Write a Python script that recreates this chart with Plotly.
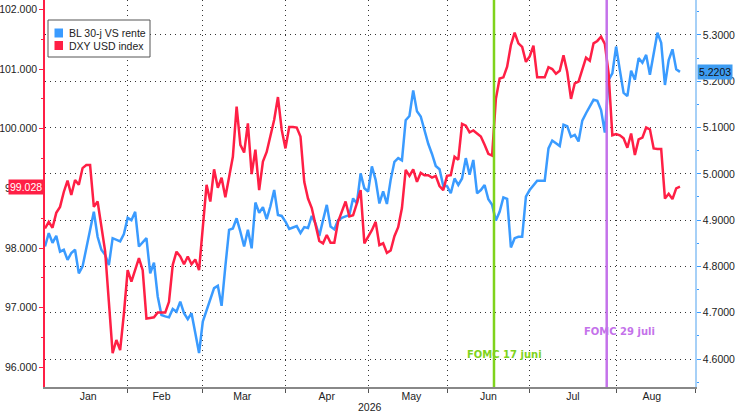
import pandas as pd
import plotly.graph_objects as go

# ----- data, one value per business day (Jan 1 -> Aug 26 2026)
dates = pd.bdate_range("2026-01-01", periods=170)

# DXY USD index (left axis)
dxy = [
    98.33, 98.44, 98.34, 98.59, 98.69, 98.94, 99.13, 98.89, 99.14, 99.06,
    99.34, 99.39, 99.39, 98.69, 98.78, 98.39, 97.95, 97.10, 96.24, 96.46,
    96.29, 96.90, 97.63, 97.44, 97.63, 97.83, 97.63, 96.82, 96.83, 96.84,
    96.92, 96.92, 96.92, 97.10, 97.72, 97.94, 97.86, 97.73, 97.86, 97.73,
    97.81, 97.63, 98.30, 99.06, 98.78, 99.32, 99.01, 99.18, 98.85, 99.20,
    99.53, 100.37, 99.73, 99.60, 100.09, 99.24, 99.65, 98.97, 99.45, 99.61,
    99.87, 100.15, 100.53, 99.98, 99.67, 100.03, 100.03, 100.02, 99.87, 99.11,
    98.83, 98.67, 98.39, 98.12, 98.08, 98.22, 98.09, 98.09, 98.44, 98.61,
    98.78, 98.53, 98.55, 98.75, 98.97, 98.08, 98.19, 98.30, 98.44, 98.05,
    98.08, 97.92, 97.96, 98.20, 98.35, 98.67, 99.31, 99.21, 99.32, 99.11,
    99.26, 99.22, 99.22, 99.18, 99.21, 99.04, 98.97, 99.21, 99.22, 99.53,
    99.48, 100.08, 100.05, 99.94, 99.97, 99.92, 99.87, 99.73, 99.58, 99.55,
    100.50, 100.84, 100.86, 101.04, 101.40, 101.61, 101.43, 101.37, 101.12, 101.21,
    101.39, 100.86, 100.86, 100.86, 101.03, 101.00, 100.92, 100.97, 101.23, 100.95,
    100.50, 100.76, 100.79, 100.98, 101.19, 101.14, 101.43, 101.47, 101.54, 101.42,
    100.93, 99.89, 99.91, 99.89, 99.84, 99.68, 99.92, 99.56, 99.82, 99.85,
    100.02, 99.99, 99.67, 99.66, 99.66, 98.83, 98.91, 98.82, 99.00, 99.028,
]

# BL 30-j VS rente (right axis)
bl30 = [
    4.843, 4.872, 4.851, 4.866, 4.832, 4.836, 4.814, 4.829, 4.836, 4.785,
    4.800, 4.840, 4.880, 4.918, 4.864, 4.836, 4.825, 4.803, 4.861, 4.857,
    4.854, 4.870, 4.905, 4.900, 4.918, 4.843, 4.852, 4.861, 4.785, 4.808,
    4.735, 4.695, 4.692, 4.690, 4.708, 4.702, 4.724, 4.699, 4.686, 4.699,
    4.656, 4.613, 4.681, 4.706, 4.731, 4.753, 4.758, 4.715, 4.800, 4.879,
    4.882, 4.904, 4.875, 4.843, 4.879, 4.839, 4.938, 4.916, 4.928, 4.902,
    4.930, 4.965, 4.911, 4.909, 4.897, 4.881, 4.884, 4.887, 4.872, 4.885,
    4.883, 4.909, 4.893, 4.866, 4.900, 4.933, 4.886, 4.880, 4.900, 4.905,
    4.908, 4.911, 4.947, 4.936, 5.001, 4.969, 4.962, 5.016, 4.987, 4.936,
    4.962, 4.935, 4.987, 5.026, 5.034, 5.029, 5.116, 5.125, 5.180, 5.135,
    5.124, 5.095, 5.065, 5.043, 5.017, 5.010, 4.974, 4.974, 4.958, 4.990,
    4.976, 4.990, 5.034, 4.998, 5.030, 4.958, 4.965, 4.976, 4.945, 4.933,
    4.899, 4.918, 4.949, 4.946, 4.841, 4.861, 4.864, 4.864, 4.951, 4.965,
    4.975, 4.985, 4.985, 4.985, 5.055, 5.072, 5.066, 5.060, 5.106, 5.103,
    5.080, 5.084, 5.070, 5.115, 5.131, 5.145, 5.160, 5.158, 5.138, 5.089,
    5.203, 5.217, 5.275, 5.224, 5.175, 5.168, 5.223, 5.203, 5.250, 5.240,
    5.257, 5.214, 5.257, 5.305, 5.283, 5.192, 5.246, 5.269, 5.226, 5.2203,
]

series_names = ["BL 30-j VS rente", "DXY USD index"]

fomc_dates = ["2026-06-17 12:00", "2026-07-29 12:00"]
fomc_labels = ["FOMC 17 juni", "FOMC 29 juli"]
fomc_label_y = [4.609, 4.659]   # on the right axis

FONT = "Liberation Sans, Arial, sans-serif"
RED = "#ff1f45"
BLUE = "#3a9bff"
GREEN = "#7fd31c"
PURPLE = "#c472ea"
GRID = "#333333"
GRID_DASH = "1px,4px"

# plot area is 650 x 387 px; helpers to place the hand-drawn legend
PW, PH = 650.0, 387.0
def px(v):
    return v / PW
def py(v):
    return 1 - v / PH

fig = go.Figure()

# blue on the (gridded) right axis, red on the left axis so it sits on top
fig.add_trace(go.Scatter(x=dates, y=bl30, mode="lines", name=series_names[0],
                         line=dict(color=BLUE, width=2.5), yaxis="y"))
fig.add_trace(go.Scatter(x=dates, y=dxy, mode="lines", name=series_names[1],
                         line=dict(color=RED, width=2.5), yaxis="y2"))

shapes = []
annotations = []
for d, lab, ly, c, xs in zip(fomc_dates, fomc_labels, fomc_label_y, [GREEN, PURPLE], [11, 13]):
    shapes.append(dict(type="line", xref="x", yref="paper", x0=d, x1=d, y0=0, y1=1,
                       line=dict(color=c, width=2.5), layer="above"))
    annotations.append(dict(x=d, y=ly, xref="x", yref="y", text=f"<b>{lab}</b>",
                            showarrow=False, xshift=xs,
                            font=dict(family="DejaVu Sans, sans-serif", size=10, color=c)))

# legend box (drawn by hand to get the tight Bloomberg spacing)
shapes.append(dict(type="rect", xref="paper", yref="paper", x0=px(3), x1=px(105),
                   y0=py(57), y1=py(20), line=dict(color="#555555", width=1),
                   fillcolor="white", layer="above"))
for i, (nm, c) in enumerate(zip(series_names, [BLUE, RED])):
    yc = 33 + 12.5 * i
    shapes.append(dict(type="rect", xref="paper", yref="paper", x0=px(9.5), x1=px(18),
                       y0=py(yc + 4.5), y1=py(yc - 4.5), line=dict(width=0),
                       fillcolor=c, layer="above"))
    annotations.append(dict(xref="paper", yref="paper", x=px(22), y=py(yc), xanchor="left",
                            yanchor="middle", text=nm, showarrow=False,
                            font=dict(size=10.5, color="#222222")))

# last value badges
annotations.append(dict(xref="paper", x=0, xanchor="right", xshift=-1, yref="y2", y=dxy[-1],
                        text=f"{dxy[-1]:.3f}", showarrow=False, bgcolor=RED, borderpad=1,
                        font=dict(color="white", size=10.5)))
annotations.append(dict(xref="paper", x=1, xanchor="left", xshift=2, yref="y", y=bl30[-1],
                        text=f"{bl30[-1]:.4f}", showarrow=False, bgcolor="#3d9cf2", borderpad=1,
                        font=dict(color="#111111", size=10.5)))
annotations.append(dict(xref="paper", x=0.5, y=0, yref="paper", yanchor="top", yshift=-12,
                        text="2026", showarrow=False, font=dict(size=10.5)))

fig.update_layout(
    width=736, height=412,
    margin=dict(l=45, r=41, t=0, b=25),
    paper_bgcolor="white", plot_bgcolor="white",
    font=dict(family=FONT, size=10.5, color="#222222"),
    showlegend=False,
    xaxis=dict(type="date", range=["2026-01-01", "2026-09-01"], automargin=False,
               rangebreaks=[dict(bounds=["sat", "mon"])],
               dtick="M1", tick0="2026-01-01", tickformat="%b", ticklabelmode="period",
               ticklabelstandoff=-5,
               showgrid=True, gridcolor=GRID, griddash=GRID_DASH, gridwidth=1,
               ticks="outside", ticklen=4, tickcolor="#555555",
               showline=True, linecolor="#888888", linewidth=1.5, zeroline=False),
    yaxis=dict(side="right", range=[4.5395, 5.3756], tick0=4.6, dtick=0.1, tickformat=".4f",
               automargin=False,
               showgrid=True, gridcolor=GRID, griddash=GRID_DASH, gridwidth=1,
               ticks="outside", ticklen=4, tickcolor=BLUE,
               minor=dict(dtick=0.05, ticks="outside", ticklen=2, tickcolor=BLUE),
               showline=True, linecolor="#a6d0f7", linewidth=1.5, zeroline=False),
    yaxis2=dict(overlaying="y", side="left", range=[95.673, 102.156], tick0=96, dtick=1,
                tickformat=".3f", showgrid=False, automargin=False,
                ticks="outside", ticklen=4, tickcolor=RED,
                minor=dict(dtick=0.5, ticks="outside", ticklen=2, tickcolor=RED),
                showline=True, linecolor=RED, linewidth=1.5, zeroline=False),
    shapes=shapes,
    annotations=annotations,
)

# the page body has a default 8px margin; drop it so the figure fills the window
fig.write_html("out.html", config={"displayModeBar": False},
               post_script="document.body.style.margin = '0';")
